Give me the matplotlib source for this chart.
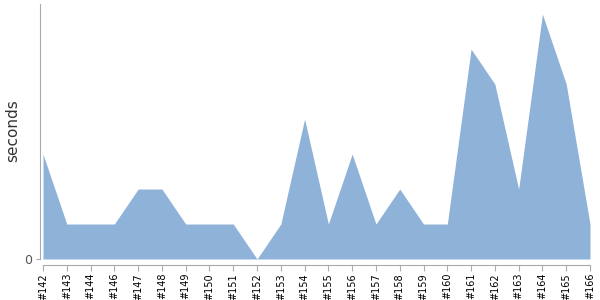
import matplotlib
matplotlib.use("Agg")
import matplotlib.pyplot as plt

builds = ["#142", "#143", "#144", "#146", "#147", "#148", "#149", "#150", "#151", "#152",
          "#153", "#154", "#155", "#156", "#157", "#158", "#159", "#160", "#161", "#162",
          "#163", "#164", "#165", "#166"]
seconds = [3, 1, 1, 1, 2, 2, 1, 1, 1, 0, 1, 4, 1, 3, 1, 2, 1, 1, 6, 5, 2, 7, 5, 1]

fig = plt.figure(figsize=(6, 3), dpi=100)
ax = fig.add_axes([40/600, 1-259/300, 550/600, 255/300])
for s in ["top", "right"]:
    ax.spines[s].set_visible(False)
ax.spines["left"].set_color("#aaaaaa")
ax.spines["bottom"].set_color("#aaaaaa")
ax.spines["bottom"].set_position(("outward", 4))

x = list(range(len(builds)))
ax.fill_between(x, seconds, 0, color="#8fb2d9", linewidth=0)
ax.set_xlim(-0.126, len(builds) - 1)
ax.set_ylim(0, 7.29)
ax.spines["bottom"].set_bounds(0, len(builds) - 1)
ax.set_xticks(x)
ax.set_xticklabels(builds, rotation=90, fontsize=7, color="black")
ax.set_yticks([0])
ax.set_yticklabels(["0"], fontsize=9, color="#555555")
ax.tick_params(axis="x", color="#aaaaaa", length=4, pad=2)
ax.tick_params(axis="y", color="#aaaaaa", length=3, pad=3)
fig.text(13/600, 1-131/300, "seconds", rotation=90, ha="center", va="center",
         fontsize=11, color="#333333")
fig.savefig("out.png", dpi=100)
